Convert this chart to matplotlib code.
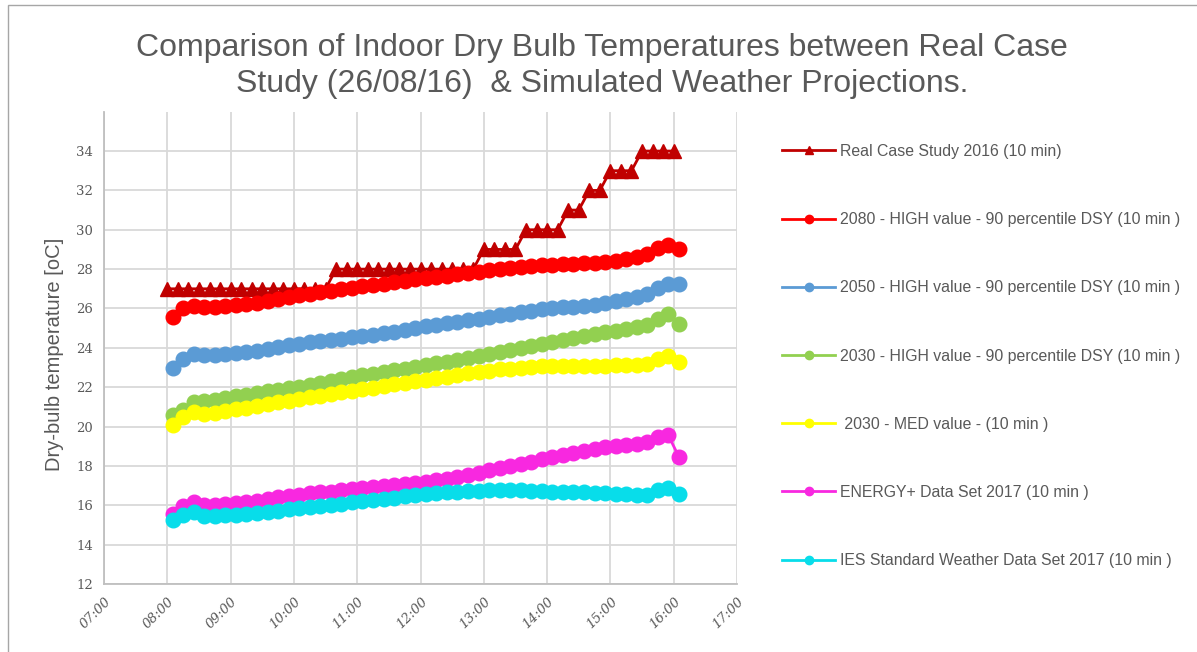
import numpy as np
import pandas as pd
import matplotlib
matplotlib.use("Agg")
import matplotlib.pyplot as plt
from matplotlib.lines import Line2D
from matplotlib.patches import Rectangle

# measured series: 10 min steps, real case from 08:00, simulations from 08:05
real_start = "08:00"
sim_start = "08:05"
step = "10min"

real_case = [27, 27, 27, 27, 27, 27, 27, 27, 27, 27, 27, 27, 27, 27, 27, 27,
             28, 28, 28, 28, 28, 28, 28, 28, 28, 28, 28, 28, 28, 28,
             29, 29, 29, 29, 30, 30, 30, 30, 31, 31, 32, 32, 33, 33, 33,
             34, 34, 34, 34]

high_2080 = [25.55, 26.0, 26.15, 26.1, 26.1, 26.15, 26.2, 26.25, 26.3, 26.4,
             26.5, 26.6, 26.7, 26.75, 26.85, 26.9, 27.0, 27.05, 27.15, 27.2,
             27.25, 27.35, 27.4, 27.5, 27.55, 27.6, 27.65, 27.75, 27.8, 27.85,
             27.95, 28.0, 28.05, 28.1, 28.15, 28.2, 28.2, 28.25, 28.25, 28.3,
             28.3, 28.35, 28.4, 28.5, 28.6, 28.75, 29.05, 29.25, 29.0]

high_2050 = [23.0, 23.45, 23.7, 23.65, 23.65, 23.7, 23.75, 23.8, 23.85, 23.95,
             24.05, 24.15, 24.2, 24.3, 24.35, 24.4, 24.45, 24.55, 24.6, 24.65,
             24.75, 24.8, 24.9, 25.0, 25.1, 25.15, 25.25, 25.3, 25.4, 25.45,
             25.55, 25.65, 25.7, 25.8, 25.85, 25.95, 26.0, 26.05, 26.1, 26.15,
             26.2, 26.3, 26.4, 26.5, 26.6, 26.75, 27.05, 27.25, 27.25]

high_2030 = [20.6, 20.85, 21.25, 21.3, 21.35, 21.45, 21.55, 21.6, 21.7, 21.8,
             21.85, 21.95, 22.0, 22.1, 22.2, 22.3, 22.4, 22.5, 22.6, 22.65,
             22.75, 22.85, 22.95, 23.05, 23.15, 23.25, 23.3, 23.4, 23.5, 23.6,
             23.7, 23.8, 23.9, 24.0, 24.1, 24.2, 24.3, 24.4, 24.5, 24.6,
             24.7, 24.8, 24.85, 24.95, 25.05, 25.15, 25.45, 25.7, 25.2]

med_2030 = [20.1, 20.5, 20.75, 20.65, 20.7, 20.8, 20.9, 20.95, 21.05, 21.15,
            21.25, 21.3, 21.4, 21.5, 21.55, 21.65, 21.75, 21.8, 21.9, 21.95,
            22.05, 22.15, 22.2, 22.3, 22.35, 22.45, 22.5, 22.6, 22.7, 22.75,
            22.8, 22.9, 22.95, 23.0, 23.05, 23.1, 23.1, 23.1, 23.1, 23.1,
            23.1, 23.1, 23.15, 23.15, 23.15, 23.2, 23.45, 23.6, 23.3]

energy_plus = [15.55, 15.95, 16.15, 16.0, 16.0, 16.05, 16.1, 16.15, 16.2, 16.3,
               16.4, 16.45, 16.5, 16.6, 16.65, 16.7, 16.8, 16.85, 16.9, 16.95,
               17.0, 17.05, 17.1, 17.15, 17.2, 17.3, 17.35, 17.45, 17.55, 17.65,
               17.8, 17.9, 18.0, 18.1, 18.2, 18.35, 18.45, 18.55, 18.65, 18.75,
               18.85, 18.95, 19.0, 19.05, 19.1, 19.2, 19.45, 19.55, 18.45]

ies = [15.25, 15.5, 15.65, 15.45, 15.45, 15.5, 15.5, 15.55, 15.6, 15.65,
       15.7, 15.8, 15.85, 15.9, 15.95, 16.0, 16.05, 16.15, 16.2, 16.25,
       16.3, 16.35, 16.45, 16.5, 16.55, 16.6, 16.65, 16.7, 16.75, 16.75,
       16.8, 16.8, 16.8, 16.8, 16.75, 16.75, 16.7, 16.7, 16.65, 16.65,
       16.6, 16.6, 16.55, 16.55, 16.5, 16.5, 16.8, 16.9, 16.55]

labels = ["Real Case Study 2016 (10 min)",
          "2080 - HIGH value - 90 percentile DSY (10 min )",
          "2050 - HIGH value - 90 percentile DSY (10 min )",
          "2030 - HIGH value - 90 percentile DSY (10 min )",
          " 2030 - MED value - (10 min )",
          "ENERGY+ Data Set 2017 (10 min )",
          "IES Standard Weather Data Set 2017 (10 min )"]
colors = ["#C00000", "#FF0000", "#5B9BD5", "#92D050", "#FFFF00", "#F828E0", "#08DDEA"]

x_ticks = ["07:00", "08:00", "09:00", "10:00", "11:00", "12:00",
           "13:00", "14:00", "15:00", "16:00", "17:00"]
y_ticks = [12, 14, 16, 18, 20, 22, 24, 26, 28, 30, 32, 34]


def to_hours(start, n):
    t = pd.date_range("2016-08-26 " + start, periods=n, freq=step)
    return t.hour + t.minute / 60.


grey = "#595959"
fig = plt.figure(figsize=(11.97, 6.52), dpi=100)
ax = fig.add_axes([0.0869, 0.1043, 0.5288, 0.7244])

sims = [high_2080, high_2050, high_2030, med_2030, energy_plus, ies]
xr = to_hours(real_start, len(real_case))
ax.plot(xr, real_case, color=colors[0], lw=2, marker="^", ms=10, zorder=3)
for vals, c in zip(sims, colors[1:]):
    xs = to_hours(sim_start, len(vals))
    ax.plot(xs, vals, color=c, lw=2, marker="o", ms=10.5, zorder=3)

hours = [int(s[:2]) for s in x_ticks]
ax.set_xlim(hours[0], hours[-1])
ax.set_ylim(12, 36)
ax.set_xticks(hours)
ax.set_xticklabels(x_ticks, rotation=45, ha="right", rotation_mode="anchor",
                   family="DejaVu Serif", style="italic", fontsize=9.5, color=grey)
ax.set_yticks(y_ticks)
ax.set_yticklabels([str(v) for v in y_ticks], family="DejaVu Serif", fontsize=9.5, color=grey)
ax.tick_params(length=0, pad=8)
ax.grid(True, color="#D9D9D9", lw=1.3, zorder=0)
ax.set_axisbelow(True)
for s in ["top", "right"]:
    ax.spines[s].set_visible(False)
for s in ["left", "bottom"]:
    ax.spines[s].set_color("#BFBFBF")
    ax.spines[s].set_linewidth(1.3)
ax.set_ylabel("Dry-bulb temperature [oC]", family="Liberation Sans", fontsize=14.5,
              color=grey)
ax.yaxis.set_label_coords(-0.064, 0.487)

fig.text(0.503, 0.899, "Comparison of Indoor Dry Bulb Temperatures between Real Case\n"
         "Study (26/08/16)  & Simulated Weather Projections.",
         ha="center", va="center", family="Liberation Sans", fontsize=23,
         color=grey, linespacing=1.28)

handles = [Line2D([], [], color=colors[0], lw=2, marker="^", ms=6)]
handles += [Line2D([], [], color=c, lw=2, marker="o", ms=6) for c in colors[1:]]
leg = fig.legend(handles, labels, loc="upper left", bbox_to_anchor=(782 / 1197, 1 - 144 / 652),
                 frameon=False, borderpad=0, borderaxespad=0, handlelength=3.35,
                 handletextpad=0.32, labelspacing=3.36,
                 prop={"family": "Liberation Sans", "size": 11.4})
for t in leg.get_texts():
    t.set_color(grey)

fig.patches.append(Rectangle((8 / 1197, -0.05), 1.1, 1 - 5 / 652 + 0.05,
                             transform=fig.transFigure, fill=False,
                             edgecolor="#A6A6A6", lw=1))

fig.savefig("out.png", dpi=100)
